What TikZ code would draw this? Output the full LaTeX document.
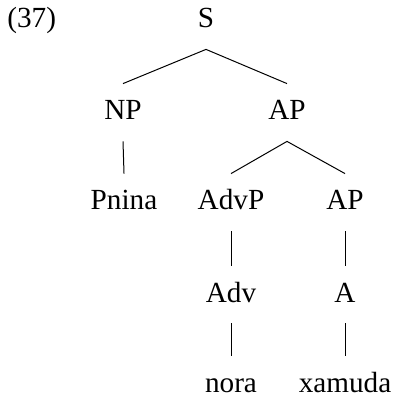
\documentclass[tikz,border=0pt]{standalone}
\usepackage{fontspec}
\setmainfont{Liberation Serif}
\begin{document}
\begin{tikzpicture}[x=0.5pt,y=-0.5pt,
  lbl/.style={anchor=base,inner sep=0pt,font=\fontsize{14.6}{17}\selectfont,
    text height=18pt,text depth=10.5pt},
  edge/.style={line width=0.5pt,black}]
\useasboundingbox (0,0) rectangle (392,399);
% example number
\node[lbl,anchor=base west] (num) at (7,28) {(37)};
% tree nodes
\node[lbl] (s)     at (206,28)  {S};
\node[lbl] (np)    at (123,120) {NP};
\node[lbl] (ap)    at (287,120) {AP};
\node[lbl] (pnina) at (124,210) {Pnina};
\node[lbl] (advp)  at (231,210) {AdvP};
\node[lbl] (ap2)   at (345,210) {AP};
\node[lbl] (adv)   at (231,302) {Adv};
\node[lbl] (a)     at (345,302) {A};
\node[lbl] (nora)  at (231,392) {nora};
\node[lbl] (xam)   at (345,392) {xamuda};
% branches
\draw[edge] (s.south) -- (np.north);
\draw[edge] (s.south) -- (ap.north);
\draw[edge] (np.south) -- (pnina.north);
\draw[edge] (ap.south) -- (advp.north);
\draw[edge] (ap.south) -- (ap2.north);
\draw[edge] (advp.south) -- (adv.north);
\draw[edge] (ap2.south) -- (a.north);
\draw[edge] (adv.south) -- (nora.north);
\draw[edge] (a.south) -- (xam.north);
\end{tikzpicture}
\end{document}
